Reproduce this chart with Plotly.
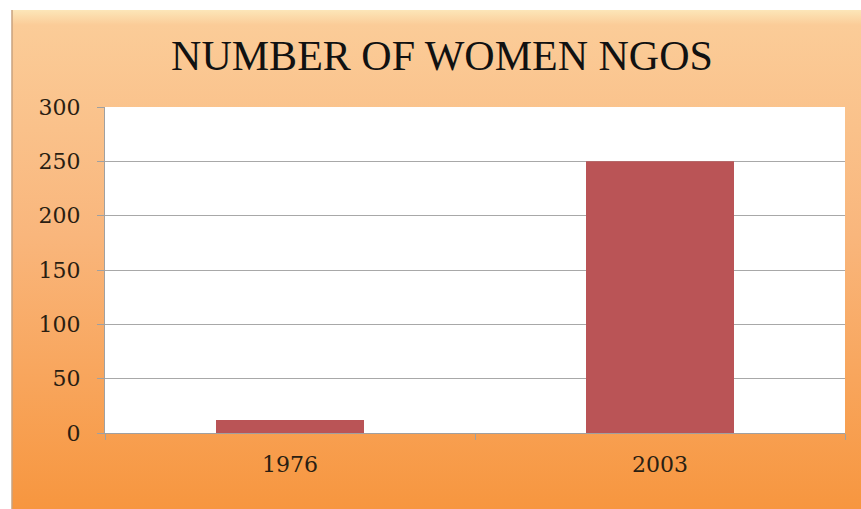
import base64
import plotly.graph_objects as go

categories = ["1976", "2003"]
values = [12, 250]
y_ticks = [0, 50, 100, 150, 200, 250, 300]

W, H = 861, 509
L, R, T, B = 105, 16, 107, 76
pw, ph = W - L - R, H - T - B

svg = (
    '<svg xmlns="http://www.w3.org/2000/svg" width="200" height="200" viewBox="0 0 200 200" preserveAspectRatio="none">'
    '<defs><linearGradient id="g" x1="0" y1="0" x2="0" y2="1">'
    '<stop offset="0" stop-color="#FCE6B8"/>'
    '<stop offset="0.03" stop-color="#FBCC98"/>'
    '<stop offset="0.45" stop-color="#F9B67C"/>'
    '<stop offset="1" stop-color="#F7963F"/>'
    '</linearGradient></defs>'
    '<rect x="0" y="0" width="200" height="200" fill="url(#g)"/>'
    '</svg>'
)
src = "data:image/svg+xml;base64," + base64.b64encode(svg.encode()).decode()

px0, py0 = 12, 10
x0 = (px0 - L) / pw
x1 = (W - L) / pw
y1 = (H - B - py0) / ph
y0 = (H - B - H) / ph

fig = go.Figure(go.Bar(
    x=categories, y=values, marker=dict(color="#BA5456", line=dict(width=0)),
    width=0.4,
))

fig.update_layout(
    width=W, height=H,
    margin=dict(l=L, r=R, t=T, b=B),
    paper_bgcolor="white",
    plot_bgcolor="white",
    showlegend=False,
    title=dict(
        text="NUMBER OF WOMEN NGOS",
        font=dict(family="Liberation Serif", size=42, color="#111111"),
        x=442 / W, xref="container", xanchor="center",
        y=1 - 55 / H, yref="container", yanchor="middle",
    ),
    images=[dict(
        source=src, xref="paper", yref="paper",
        x=x0, y=y1, sizex=x1 - x0, sizey=y1 - y0,
        xanchor="left", yanchor="top", sizing="stretch", layer="below",
    )],
    shapes=[
        dict(
            type="line", xref="paper", yref="paper",
            x0=x0, x1=x0, y0=y0, y1=y1,
            line=dict(color="#C8A27E", width=1.5), layer="below",
        ),
        dict(
            type="rect", xref="paper", yref="paper",
            x0=0, x1=1, y0=0, y1=1,
            fillcolor="white", line=dict(width=0), layer="below",
        ),
    ],
    bargap=0.6,
)

fig.update_yaxes(
    range=[0, 300], tickvals=y_ticks,
    showgrid=True, gridcolor="#A8A8A8", gridwidth=1,
    showline=True, linecolor="#A0A0A0", linewidth=1,
    ticks="outside", ticklen=7, tickcolor="#A0A0A0",
    tickfont=dict(family="DejaVu Serif", size=22, color="#2A1E12"),
    ticklabelstandoff=12,
    zeroline=False,
)
fig.update_xaxes(
    showline=True, linecolor="#A0A0A0", linewidth=1,
    ticks="outside", ticklen=6, tickcolor="#A0A0A0",
    tickson="boundaries",
    tickfont=dict(family="DejaVu Serif", size=22, color="#2A1E12"),
    ticklabelstandoff=12,
)

fig.write_html("out.html")
